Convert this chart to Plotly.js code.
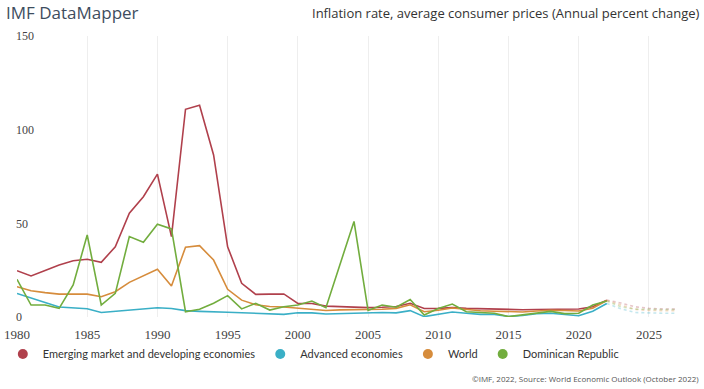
<!DOCTYPE html>
<html>
<head>
<meta charset="utf-8">
<script src="https://cdn.plot.ly/plotly-3.0.1.min.js"></script>
<style>
html,body{margin:0;padding:0;background:#fff;}
#chart{width:704px;height:389px;}
</style>
</head>
<body>
<div id="chart"></div>
<script>
// Historical years 1980-2022
const years = [1980,1981,1982,1983,1984,1985,1986,1987,1988,1989,1990,1991,1992,1993,1994,1995,1996,1997,1998,1999,2000,2001,2002,2003,2004,2005,2006,2007,2008,2009,2010,2011,2012,2013,2014,2015,2016,2017,2018,2019,2020,2021,2022];
const emde = [24.7,21.9,24.8,27.7,30.0,30.8,29.2,37.5,55.4,64.2,76.3,42.9,110.9,113.0,86.5,37.5,18.0,12.1,12.2,12.3,7.2,7.2,5.8,5.5,5.2,5.0,5.2,5.6,7.3,4.5,4.6,5.0,4.6,4.4,4.2,4.0,3.9,4.0,4.1,4.2,4.3,5.5,9.0];
const advanced = [12.6,10.0,7.7,5.3,5.0,4.4,2.4,3.0,3.4,4.3,4.9,4.5,3.4,3.0,2.6,2.5,2.3,2.0,1.5,1.4,2.3,2.2,1.6,1.9,2.0,2.3,2.4,2.2,3.4,0.2,1.5,2.7,2.0,1.4,1.4,0.3,0.8,1.7,2.0,1.4,0.7,3.1,7.2];
const world = [16.2,14.0,13.0,12.2,12.2,12.2,10.8,13.5,18.5,21.9,25.5,16.5,37.2,38.1,30.4,14.8,9.0,6.5,5.6,5.3,4.6,4.2,3.5,3.8,3.8,4.0,4.1,4.6,6.5,2.8,3.6,4.8,4.0,3.3,3.1,2.7,2.7,3.2,3.6,3.5,3.2,4.7,8.8];
const dominican = [20.1,6.4,6.4,4.6,17.1,43.8,6.4,12.6,42.9,39.9,49.5,47.0,2.8,4.1,7.3,11.4,4.3,7.3,3.7,5.5,6.4,8.5,5.0,27.4,51.0,3.5,6.4,5.2,9.3,1.1,4.5,6.9,2.8,2.4,2.0,0.2,1.0,2.0,3.0,1.8,2.0,6.4,8.5];

// Projections 2022-2027
const projYears = [2022,2023,2024,2025,2026,2027];
const emdeProj = [9.0,7.5,5.5,4.6,4.3,4.2];
const advancedProj = [7.2,4.4,2.4,2.0,2.0,2.0];
const worldProj = [8.8,6.5,4.1,3.5,3.3,3.3];
const dominicanProj = [8.5,5.5,4.2,4.0,4.0,4.0];

const seriesNames = ["Emerging market and developing economies","Advanced economies","World","Dominican Republic"];
const colors = ["#b0404c","#3aafc6","#d68c3c","#72ad3e"];

const hist = [emde, advanced, world, dominican];
const proj = [emdeProj, advancedProj, worldProj, dominicanProj];

const traces = [];
hist.forEach((vals, i) => {
  traces.push({x: years, y: vals, type: 'scatter', mode: 'lines',
    line: {color: colors[i], width: 1.6}, showlegend: false, hoverinfo: 'skip'});
});
proj.forEach((vals, i) => {
  traces.push({x: projYears, y: vals, type: 'scatter', mode: 'lines',
    line: {color: colors[i], width: 1.6, dash: 'dot'}, opacity: 0.3, showlegend: false, hoverinfo: 'skip'});
});
seriesNames.forEach((name, i) => {
  traces.push({x: [null], y: [null], type: 'scatter', mode: 'markers', name: name,
    marker: {color: colors[i], size: 10, symbol: 'circle'}});
});

const layout = {
  width: 704, height: 389,
  margin: {l: 17, r: 20, t: 36, b: 72, autoexpand: false},
  paper_bgcolor: '#fff', plot_bgcolor: '#fff',
  showlegend: true,
  legend: {orientation: 'h', xref: 'container', x: 0.004, xanchor: 'left', y: -0.08, yanchor: 'top',
    bgcolor: 'rgba(0,0,0,0)',
    font: {family: 'Lato, sans-serif', size: 11, color: '#333'}, itemwidth: 30, tracegroupgap: 0},
  xaxis: {range: [1980, 2027.5], tickvals: [1980,1985,1990,1995,2000,2005,2010,2015,2020,2025],
    ticktext: ['1980','1985','1990','1995','2000','2005','2010','2015','2020','2025'],
    showgrid: true, gridcolor: '#eeeeee', gridwidth: 1, zeroline: false, showline: false,
    ticks: '', ticklabelstandoff: 8, ticklabeloverflow: 'allow', automargin: false,
    tickfont: {family: 'Liberation Serif, serif', size: 13, color: '#444'}},
  yaxis: {range: [0, 150], tickvals: [0,50,100,150], ticktext: ['0','50','100','150'],
    showgrid: false, zeroline: false, showline: false, ticks: '', automargin: false,
    ticklabelposition: 'inside', ticklabelstandoff: -4, ticklabeloverflow: 'allow',
    tickfont: {family: 'Liberation Serif, serif', size: 12, color: '#444'}},
  annotations: [
    {text: 'IMF DataMapper', xref: 'paper', yref: 'paper', x: -0.02, y: 1.0, yshift: 24,
     xanchor: 'left', yanchor: 'middle', showarrow: false,
     font: {family: 'Open Sans, sans-serif', size: 17, color: '#3e4d5e'}},
    {text: 'Inflation rate, average consumer prices (Annual percent change)', xref: 'paper', yref: 'paper',
     x: 1.027, y: 1.0, yshift: 23, xanchor: 'right', yanchor: 'middle', showarrow: false,
     font: {family: 'Open Sans, sans-serif', size: 13, color: '#333'}},
    {text: '©IMF, 2022, Source: World Economic Outlook (October 2022)', xref: 'paper', yref: 'paper',
     x: 1.025, y: 0, yshift: -61, xanchor: 'right', yanchor: 'middle', showarrow: false,
     font: {family: 'Open Sans, sans-serif', size: 8, color: '#555'}}
  ]
};

Plotly.newPlot('chart', traces, layout, {displayModeBar: false, staticPlot: true});
</script>
</body>
</html>
